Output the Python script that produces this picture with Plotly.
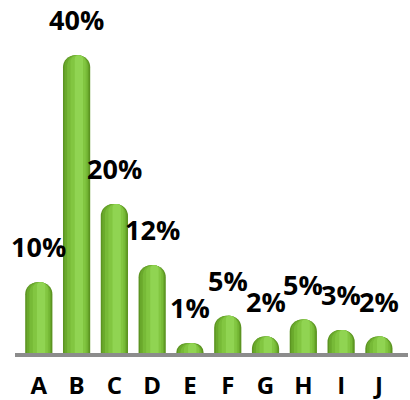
import plotly.graph_objects as go

categories = ["A", "B", "C", "D", "E", "F", "G", "H", "I", "J"]
values = [9.5, 40, 20, 11.8, 1.3, 5.0, 2.2, 4.5, 3.1, 2.2]
labels = ["10%", "40%", "20%", "12%", "1%", "5%", "2%", "5%", "3%", "2%"]

xpos = list(range(len(categories)))

layers = [
    # (width, offset shift, color, cornerradius)
    (0.72, 0.0, "#5c9422", 12),
    (0.64, 0.0, "#6aa92c", 11),
    (0.54, 0.02, "#77ba37", 10),
    (0.40, 0.04, "#82c641", 9),
    (0.22, 0.06, "#90d452", 7),
]

fig = go.Figure()
for w, sh, col, cr in layers:
    fig.add_trace(go.Bar(
        x=xpos, y=values, width=w, offset=-w / 2 + sh,
        marker=dict(color=col, line=dict(width=0), cornerradius=cr),
        hoverinfo="skip", showlegend=False,
    ))

for xi, v, t in zip(xpos, values, labels):
    fig.add_annotation(
        x=xi, y=v, text=f"<b>{t}</b>", showarrow=False,
        yanchor="bottom", yshift=15,
        font=dict(family="Open Sans", size=27, color="#000000"),
    )

fig.update_layout(
    width=410, height=400,
    margin=dict(l=15, r=2, t=18, b=47),
    barmode="overlay",
    plot_bgcolor="white", paper_bgcolor="white",
    xaxis=dict(
        range=[-0.63, 9.77], tickmode="array", tickvals=xpos,
        ticktext=[f"<b>{c}</b>" for c in categories],
        showgrid=False, zeroline=False, showline=True,
        linecolor="#8c8c8c", linewidth=4, ticks="",
        ticklabelstandoff=8, automargin=False,
        tickfont=dict(family="Open Sans", size=24, color="#000000"),
    ),
    yaxis=dict(range=[0, 45], visible=False, showgrid=False, zeroline=False,
               automargin=False),
)

fig.write_html("out.html")
